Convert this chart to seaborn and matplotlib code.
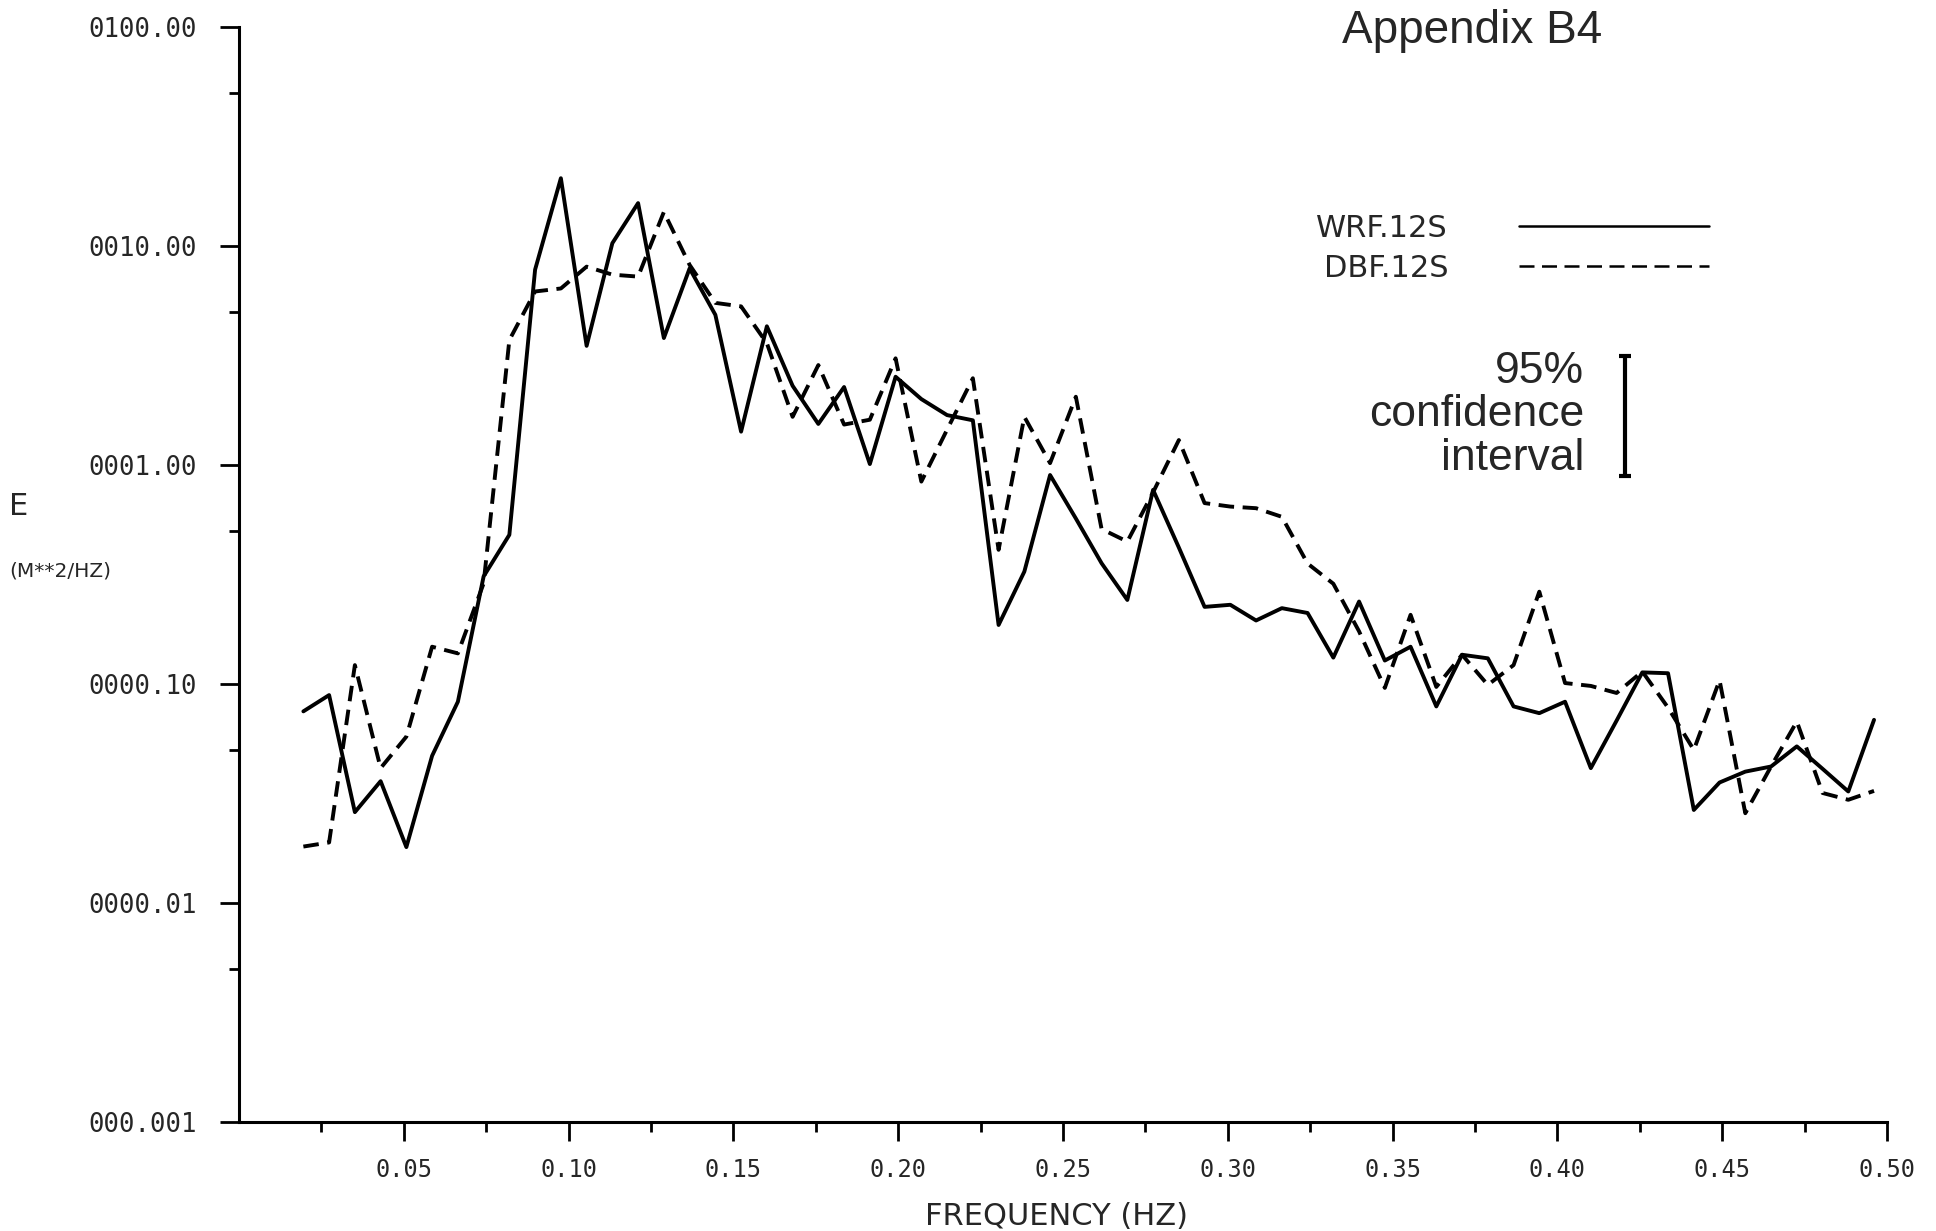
import matplotlib
matplotlib.use("Agg")
import matplotlib.pyplot as plt
from matplotlib.ticker import FixedLocator, NullFormatter
import pandas as pd
import seaborn as sns

# Frequency bins (Hz)
freq_hz = [0.01953, 0.02734, 0.03516, 0.04297, 0.05078, 0.05859, 0.06641, 0.07422,
           0.08203, 0.08984, 0.09766, 0.10547, 0.11328, 0.12109, 0.12891, 0.13672,
           0.14453, 0.15234, 0.16016, 0.16797, 0.17578, 0.18359, 0.19141, 0.19922,
           0.20703, 0.21484, 0.22266, 0.23047, 0.23828, 0.24609, 0.25391, 0.26172,
           0.26953, 0.27734, 0.28516, 0.29297, 0.30078, 0.30859, 0.31641, 0.32422,
           0.33203, 0.33984, 0.34766, 0.35547, 0.36328, 0.37109, 0.37891, 0.38672,
           0.39453, 0.40234, 0.41016, 0.41797, 0.42578, 0.43359, 0.44141, 0.44922,
           0.45703, 0.46484, 0.47266, 0.48047, 0.48828, 0.49609]

# Spectral energy density, M**2/HZ
wrf_12s = [0.075, 0.089, 0.026, 0.036, 0.018, 0.047, 0.083, 0.31, 0.48, 7.8,
           20.4, 3.5, 10.3, 15.7, 3.8, 7.9, 4.85, 1.42, 4.3, 2.3,
           1.54, 2.27, 1.01, 2.53, 2.0, 1.69, 1.6, 0.186, 0.326, 0.90,
           0.57, 0.356, 0.242, 0.77, 0.42, 0.225, 0.23, 0.195, 0.222, 0.211,
           0.132, 0.238, 0.128, 0.148, 0.079, 0.136, 0.131, 0.079, 0.0736, 0.083,
           0.0413, 0.068, 0.113, 0.112, 0.0266, 0.0355, 0.0398, 0.042, 0.0519, 0.041,
           0.0323, 0.0686]
dbf_12s = [0.0181, 0.0189, 0.122, 0.0413, 0.0575, 0.148, 0.138, 0.288, 3.72, 6.2,
           6.4, 8.05, 7.4, 7.25, 14.3, 8.2, 5.5, 5.3, 3.6, 1.66,
           2.86, 1.53, 1.61, 3.07, 0.84, 1.45, 2.49, 0.41, 1.66, 1.02,
           2.05, 0.51, 0.447, 0.75, 1.30, 0.67, 0.646, 0.635, 0.58, 0.355,
           0.287, 0.174, 0.096, 0.207, 0.097, 0.136, 0.099, 0.122, 0.264, 0.101,
           0.098, 0.091, 0.114, 0.078, 0.050, 0.104, 0.0257, 0.042, 0.0674, 0.0318,
           0.0296, 0.0325]
series_names = ["WRF.12S", "DBF.12S"]

x_ticks = [0.05, 0.10, 0.15, 0.20, 0.25, 0.30, 0.35, 0.40, 0.45, 0.50]
x_tick_labels = ["0.05", "0.10", "0.15", "0.20", "0.25", "0.30", "0.35", "0.40", "0.45", "0.50"]
x_minor = [0.025, 0.075, 0.125, 0.175, 0.225, 0.275, 0.325, 0.375, 0.425, 0.475]
y_ticks = [0.001, 0.01, 0.1, 1.0, 10.0, 100.0]
y_tick_labels = ["000.001", "0000.01", "0000.10", "0001.00", "0010.00", "0100.00"]
y_minor = [0.005, 0.05, 0.5, 5.0, 50.0]

# 95% confidence interval bar
ci_freq = 0.4206
ci_lower, ci_upper = 0.887, 3.16

sns.set_style("ticks")
plt.rcParams["font.family"] = ["DejaVu Sans"]

df = pd.DataFrame({
    "FREQUENCY": freq_hz + freq_hz,
    "E": wrf_12s + dbf_12s,
    "series": [series_names[0]] * len(freq_hz) + [series_names[1]] * len(freq_hz),
})

fig = plt.figure(figsize=(19.36, 12.31), dpi=100)
ax = fig.add_axes([0.12345, 0.08855, 0.8512, 0.8895])

sns.lineplot(data=df, x="FREQUENCY", y="E", style="series", style_order=series_names,
             dashes={"WRF.12S": "", "DBF.12S": (4, 2.2)}, color="black",
             linewidth=2.8, estimator=None, sort=False, ax=ax)

ax.set_yscale("log")
ax.set_xlim(0, 0.5)
ax.set_ylim(0.001, 100)

sns.despine(ax=ax)
for side in ("left", "bottom"):
    ax.spines[side].set_linewidth(2.2)
    ax.spines[side].set_color("black")

ax.xaxis.set_major_locator(FixedLocator(x_ticks))
ax.xaxis.set_minor_locator(FixedLocator(x_minor))
ax.set_xticks(x_ticks, x_tick_labels, fontsize=17, family="DejaVu Sans Mono")
ax.xaxis.set_minor_formatter(NullFormatter())

ax.set_yticks(y_ticks, y_tick_labels, fontsize=18.5, family="DejaVu Sans Mono")
ax.yaxis.set_minor_locator(FixedLocator(y_minor))
ax.yaxis.set_minor_formatter(NullFormatter())

ax.tick_params(axis="both", which="major", direction="out", length=14, width=2, color="black")
ax.tick_params(axis="both", which="minor", direction="out", length=7.5, width=2, color="black")
ax.tick_params(axis="y", which="major", pad=16)
ax.tick_params(axis="x", which="major", pad=12)

ax.set_xlabel("FREQUENCY (HZ)", fontsize=22)
ax.xaxis.set_label_coords(0.496, -0.073)
ax.set_ylabel("E", fontsize=22, rotation=0, ha="left", va="center")
ax.yaxis.set_label_coords(-0.1395, 0.562, transform=ax.transAxes)
ax.text(-0.1397, 0.503, "(M**2/HZ)", transform=ax.transAxes, fontsize=14.5,
        ha="left", va="center")

# Legend: labels on the left, line samples on the right
handles, labels = ax.get_legend_handles_labels()
pairs = [(h, l) for h, l in zip(handles, labels) if l in series_names]
leg = ax.legend([p[0] for p in pairs], [p[1] for p in pairs], markerfirst=False,
                frameon=False, fontsize=22, handlelength=6.25, handletextpad=2.3,
                labelspacing=0.34, borderpad=0, borderaxespad=0,
                loc="upper left", bbox_to_anchor=(0.680, 0.826),
                bbox_transform=fig.transFigure)
for line in leg.get_lines():
    line.set_linewidth(1.8)
leg.get_lines()[1].set_dashes([6, 3])

# Confidence interval bar and its caption
mid = (ci_lower * ci_upper) ** 0.5
ax.errorbar([ci_freq], [mid], yerr=[[mid - ci_lower], [ci_upper - mid]], fmt="none",
            ecolor="black", elinewidth=3, capsize=4.5, capthick=3)
fig.text(0.8182, 0.6629, "95%\nconfidence\ninterval", fontsize=32,
         family=["Liberation Sans", "DejaVu Sans"], ha="right", va="center",
         multialignment="right", linespacing=1.09)

fig.text(0.7603, 0.993, "Appendix B4", fontsize=33, family=["Liberation Sans", "DejaVu Sans"],
         ha="center", va="top")

fig.savefig("out.png", dpi=100, facecolor="white")
